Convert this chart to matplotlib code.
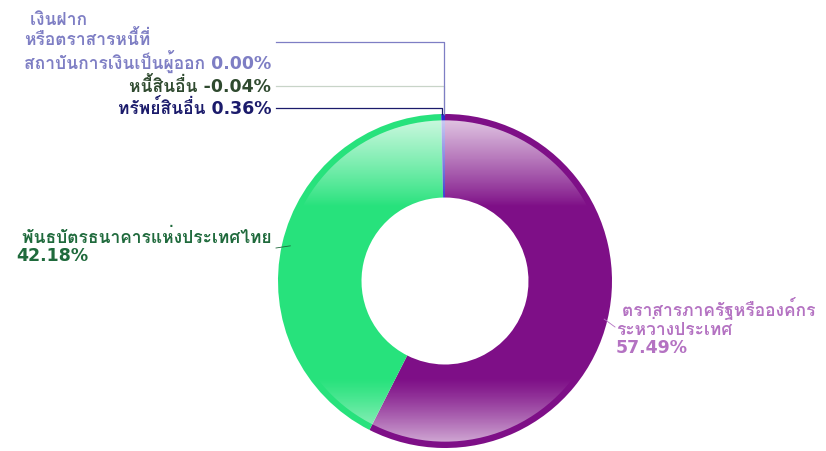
import numpy as np
import matplotlib
matplotlib.use('Agg')
import matplotlib.pyplot as plt
from matplotlib.patches import Wedge

plt.rcParams['font.family'] = ['DejaVu Sans', 'Loma']

labels = ['ตราสารภาครัฐหรือองค์กร\nระหว่างประเทศ',
          'พันธบัตรธนาคารแห่งประเทศไทย',
          'ทรัพย์สินอื่น',
          'หนี้สินอื่น',
          'เงินฝาก\nหรือตราสารหนี้ที่\nสถาบันการเงินเป็นผู้ออก']
percents = [57.49, 42.18, 0.36, -0.04, 0.00]
colors = ['#7e0f87', '#27e27c', '#2b2bcc', '#3a5a3a', '#8080c8']
label_colors = ['#b472c2', '#1f6a3c', '#1b1b6b', '#2f4a2f', '#7e7ec4']

# pixel geometry of the reference
W, H = 826, 452
cx, cy, R = 445, 282, 167


def d(px, py):
    return (px - cx) / R, (cy - py) / R


fig = plt.figure(figsize=(W / 100, H / 100), dpi=100)
ax = fig.add_axes([0, 0, 1, 1])

sizes = [max(p, 0) for p in percents]
wedges, _ = ax.pie(sizes, colors=colors, startangle=90, counterclock=False,
                   radius=1, wedgeprops=dict(width=0.5, linewidth=0),
                   center=(0, 0), frame=True)
ax.axis('off')
ax.set_xlim(-cx / R, (W - cx) / R)
ax.set_ylim((cy - H) / R, cy / R)
ax.set_aspect('auto')

# glossy gradient inside the rim
ys = np.linspace(-1, 1, 400)
alpha = np.zeros_like(ys)
top = ys > 0.45
alpha[top] = 0.8 * ((ys[top] - 0.45) / 0.55) ** 0.9
bot = ys < -0.58
alpha[bot] = 0.7 * ((-0.58 - ys[bot]) / 0.42) ** 1.2
img = np.ones((len(ys), 1, 4))
img[:, 0, 3] = alpha
im = ax.imshow(img, extent=(-1, 1, -1, 1), origin='lower', aspect='auto',
               interpolation='bilinear', zorder=3)
clip = Wedge((0, 0), 0.962, 0, 360, width=0.462, transform=ax.transData)
im.set_clip_path(clip)

# wedge mid angles
theta = []
acc = 0
total = sum(sizes)
for s in sizes:
    a = 90 - 360 * (acc + s / 2) / total
    theta.append(np.deg2rad(a))
    acc += s

fs = 12.5
# big slices
x0, y0 = np.cos(theta[0]), np.sin(theta[0])
ax.plot([x0 * 0.98, d(615, 328)[0]], [y0 * 0.98, d(615, 328)[1]],
        color=label_colors[0], lw=0.6, zorder=4)
ax.text(*d(616, 327), ' ' + labels[0] + f'\n{percents[0]:.2f}%',
        color=label_colors[0], fontsize=fs, fontweight='bold',
        ha='left', va='center', linespacing=1.05)

x1, y1 = np.cos(theta[1]), np.sin(theta[1])
ax.plot([d(276, 249)[0], x1 * 0.95], [d(276, 249)[1], y1 * 0.95],
        color=label_colors[1], lw=0.6, zorder=4)
ax.text(*d(272, 247), ' ' + labels[1] + '\n' + f'{percents[1]:.2f}%',
        color=label_colors[1], fontsize=fs, fontweight='bold',
        ha='right', va='center', linespacing=1.05, multialignment='left')

# small slices near the top
ytxt = [109, 87, 43]
xdrop = [442, 444, 444]
for k, i in enumerate([2, 3, 4]):
    xa, ya = np.cos(theta[i]), np.sin(theta[i])
    px = d(xdrop[k], ytxt[k])
    ax.plot([d(276, 0)[0], px[0], px[0]], [px[1], px[1], ya],
            color=label_colors[i] if i != 3 else '#c8d4c8', lw=0.9,
            zorder=4 if i != 3 else 2)
ax.text(*d(271, 109), f'{labels[2]} {percents[2]:.2f}%', color=label_colors[2],
        fontsize=fs, fontweight='bold', ha='right', va='center')
ax.text(*d(271, 87), f'{labels[3]} {percents[3]:.2f}%', color=label_colors[3],
        fontsize=fs, fontweight='bold', ha='right', va='center')
ax.text(*d(271, 42), ' ' + labels[4] + f' {percents[4]:.2f}%',
        color=label_colors[4], fontsize=fs, fontweight='bold',
        ha='right', va='center', linespacing=1.05, multialignment='left')

fig.savefig('out.png', dpi=100)
